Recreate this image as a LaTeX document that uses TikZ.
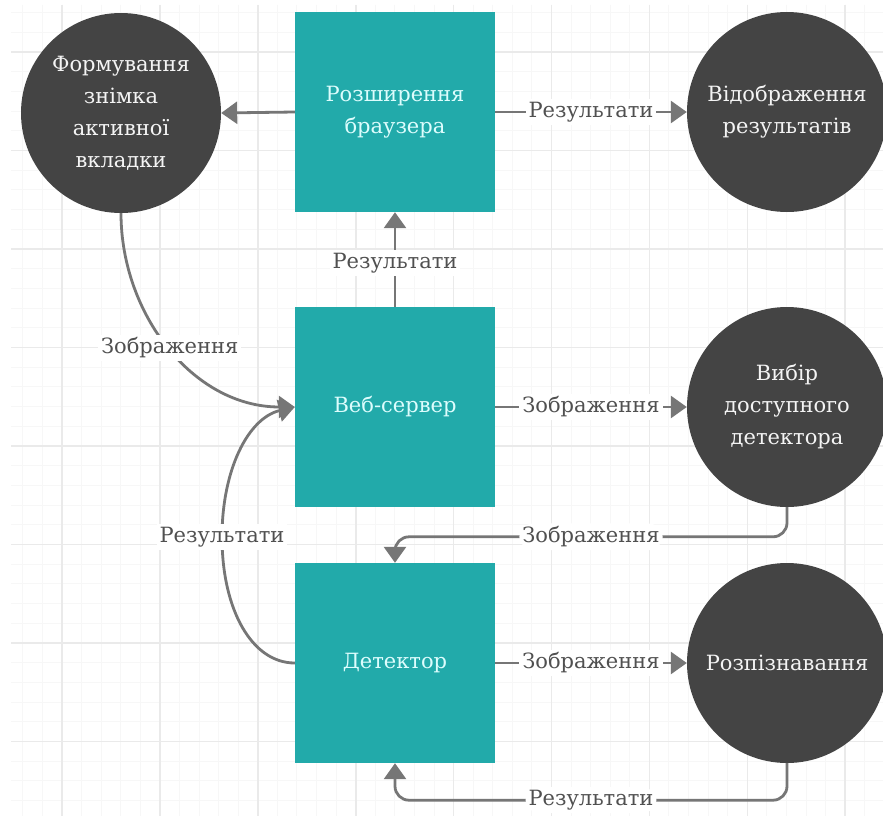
\documentclass[tikz,border=0pt]{standalone}
\usepackage{fontspec}
\setmainfont{DejaVu Serif}
\usetikzlibrary{arrows.meta,calc}

\definecolor{boxfill}{HTML}{22AAAA}
\definecolor{boxtext}{HTML}{DDFDFD}
\definecolor{circfill}{HTML}{444444}
\definecolor{circtext}{HTML}{F4F4F4}
\definecolor{linegray}{HTML}{767676}
\definecolor{lbltext}{HTML}{505050}
\definecolor{gridmajor}{HTML}{EAEAEA}
\definecolor{gridminor}{HTML}{F7F7F7}

\tikzset{
  procbox/.style={rectangle, fill=boxfill, minimum width=200pt, minimum height=200pt,
    text=boxtext, align=center, inner sep=0pt, font=\fontsize{21}{32}\selectfont},
  actcirc/.style={circle, fill=circfill, minimum size=200pt, text=circtext,
    align=center, inner sep=0pt, font=\fontsize{21}{32}\selectfont},
  flow/.style={draw=linegray, line width=2.8pt,
    -{Triangle[length=16pt,width=22pt]}},
  lbl/.style={fill=white, text=lbltext, inner sep=3pt,
    font=\fontsize{21}{26}\selectfont},
}

\begin{document}
\begin{tikzpicture}[x=1pt,y=-1pt]
\useasboundingbox (0,0) rectangle (883,816);
\fill[white] (0,0) rectangle (883,816);

% background grid
\foreach \k in {0,...,44} {
  \pgfmathsetmacro{\gx}{62+19.58*(\k-2)}
  \ifdim\gx pt>11pt \draw[gridminor, line width=1pt] (\gx,5) -- (\gx,816); \fi
}
\foreach \k in {0,...,41} {
  \pgfmathsetmacro{\gy}{52+19.7*(\k-2)}
  \ifdim\gy pt>5pt \draw[gridminor, line width=1pt] (11,\gy) -- (883,\gy); \fi
}
\foreach \k in {0,...,8} {
  \draw[gridmajor, line width=1.6pt] ({62+97.9*\k},5) -- ({62+97.9*\k},816);
}
\foreach \k in {0,...,7} {
  \draw[gridmajor, line width=1.6pt] (11,{52+98.5*\k}) -- (883,{52+98.5*\k});
}

% process boxes
\node[procbox] (ext) at (395,112) {Розширення\\браузера};
\node[procbox] (web) at (395,407) {Веб-сервер};
\node[procbox] (det) at (395,663) {Детектор};

% activity circles
\node[actcirc] (snap) at (121,113) {Формування\\знімка\\активної\\вкладки};
\node[actcirc] (show) at (787,112) {Відображення\\результатів};
\node[actcirc] (pick) at (787,407) {Вибір\\доступного\\детектора};
\node[actcirc] (recog) at (787,663) {Розпізнавання};

% connectors
\draw[flow] (ext.west) -- (snap.east);
\draw[flow] (ext.east) -- node[lbl] {Результати} (show.west);
\draw[flow] (web.north) -- node[lbl, pos=0.46] {Результати} (ext.south);
\draw[flow] (web.east) -- node[lbl] {Зображення} (pick.west);
\draw[flow] (det.east) -- node[lbl] {Зображення} (recog.west);

\draw[flow] (snap.south) .. controls (121,314) and (193,407) .. (web.west)
  node[lbl, pos=0.5] {Зображення};

\coordinate (backbend) at (222,537);
\draw[flow] (det.west) .. controls (252,663) and (222,610) .. (backbend)
  .. controls (222,470) and (248,418) .. (web.west);
\node[lbl] at (backbend) {Результати};

\draw[flow, rounded corners=14pt] (pick.south) |- node[lbl, pos=0.75] {Зображення}
  ([yshift=26pt]det.north) -- (det.north);
\draw[flow, rounded corners=14pt] (recog.south) |- node[lbl, pos=0.75] {Результати}
  ([yshift=-37pt]det.south) -- (det.south);
\end{tikzpicture}
\end{document}
